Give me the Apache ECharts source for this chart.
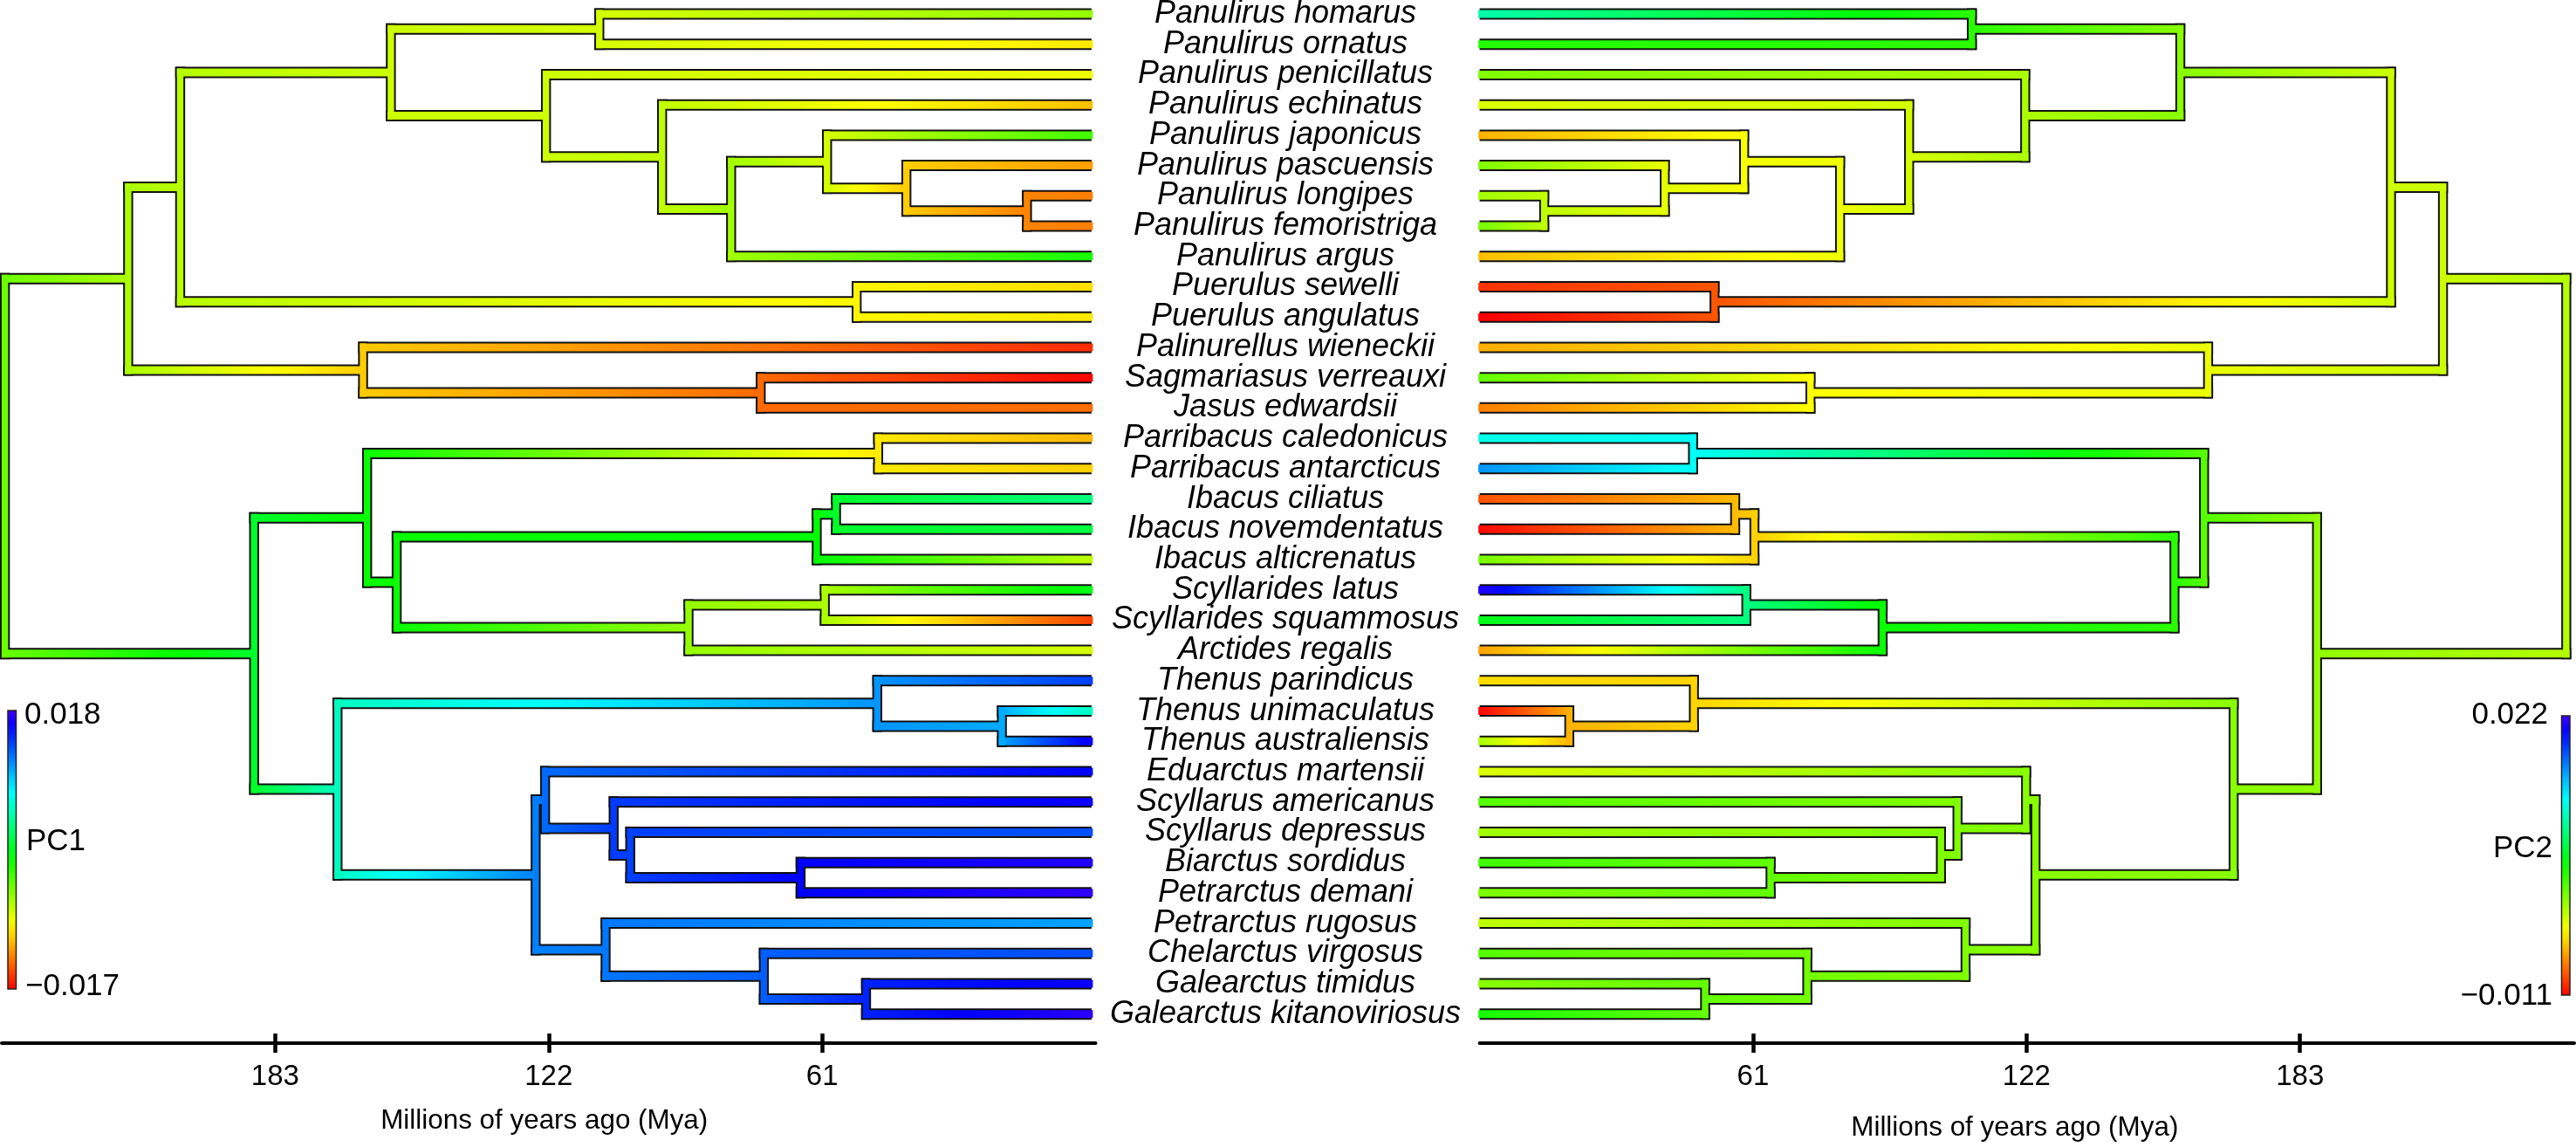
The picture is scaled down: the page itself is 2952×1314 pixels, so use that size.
<!DOCTYPE html>
<html>
<head>
<meta charset="utf-8">
<style>
  html, body { margin: 0; background: #fff; }
  #chart { width: 2952px; height: 1314px; }
</style>
<script src="https://cdn.jsdelivr.net/npm/echarts@6/dist/echarts.min.js"></script>
</head>
<body>
<div id="chart"></div>
<script>
// species, top to bottom (index = row = tip id)
const tipNames = [
  'Panulirus homarus', 'Panulirus ornatus', 'Panulirus penicillatus', 'Panulirus echinatus',
  'Panulirus japonicus', 'Panulirus pascuensis', 'Panulirus longipes', 'Panulirus femoristriga',
  'Panulirus argus', 'Puerulus sewelli', 'Puerulus angulatus', 'Palinurellus wieneckii',
  'Sagmariasus verreauxi', 'Jasus edwardsii', 'Parribacus caledonicus', 'Parribacus antarcticus',
  'Ibacus ciliatus', 'Ibacus novemdentatus', 'Ibacus alticrenatus', 'Scyllarides latus',
  'Scyllarides squammosus', 'Arctides regalis', 'Thenus parindicus', 'Thenus unimaculatus',
  'Thenus australiensis', 'Eduarctus martensii', 'Scyllarus americanus', 'Scyllarus depressus',
  'Biarctus sordidus', 'Petrarctus demani', 'Petrarctus rugosus', 'Chelarctus virgosus',
  'Galearctus timidus', 'Galearctus kitanoviriosus'
]

// internal nodes, ids start at 34: children, age (Mya), row
const nodeChildren = [
  [6, 7], [5, 34], [4, 35], [36, 8], [3, 37], [2, 38], [0, 1], [40, 39], [9, 10], [41, 42], [12, 13],
  [11, 44], [43, 45], [14, 15], [16, 17], [48, 18], [19, 20], [50, 21], [49, 51], [47, 52], [23, 24],
  [22, 54], [28, 29], [27, 56], [26, 57], [25, 58], [32, 33], [31, 60], [30, 61], [59, 62], [55, 63],
  [53, 64], [46, 65]
]
const nodeAges = [
  14.4, 41.3, 59, 80.4, 95.8, 121.7, 109.8, 156.3, 52.4, 203.3, 73.8,
  162.5, 214.9, 47.6, 57, 61.3, 59.5, 89.9, 155, 161.6, 20,
  47.8, 64.9, 102.9, 106.6, 121.9, 50.3, 73.1, 108.4, 124, 168.2,
  186.8, 242.4
]
const nodeRows = [
  6.5, 5.75, 4.875, 6.4375, 4.719, 3.359, 0.5, 1.93, 9.5, 5.715, 12.5,
  11.75, 8.732, 14.5, 16.5, 17.25, 19.5, 20.25, 18.75, 16.625, 23.5,
  22.75, 28.5, 27.75, 26.875, 25.938, 32.5, 31.75, 30.875, 28.406, 25.578,
  21.102, 14.917
]

// PC scores
const pc1Tips = [
  -0.00533, -0.00945, -0.00822, -0.01082, -0.00259, -0.01192, -0.01288, -0.01288, -0.00122, -0.00986,
  -0.00945, -0.01563, -0.01686, -0.01343, -0.0111, -0.01027, 0.00359, 0.00153, -0.00671, 0.00016,
  -0.01494, -0.00739, 0.01388, 0.00565, 0.01649, 0.01594, 0.01635, 0.01333, 0.01704, 0.01745,
  0.01072, 0.01347, 0.01635, 0.01731
]
const pc1Nodes = [
  -0.01275, -0.01041, -0.00739, -0.00575, -0.00671, -0.00712, -0.00739, -0.00712, -0.00904, -0.00643, -0.01357,
  -0.01041, -0.00602, -0.00945, 0.00084, -0.00053, -0.00602, -0.00533, -0.0008, -0.0008, 0.01045,
  0.01114, 0.01594, 0.01388, 0.01402, 0.01251, 0.01484, 0.01292, 0.0121, 0.01182, 0.00565,
  0.00084, -0.00396
]
const pc2Tips = [
  0.00971, 0.00349, 0.00065, -0.0022, -0.00556, 0.00065, -0.00039, 0.00091, -0.00518, -0.00945,
  -0.011, -0.00569, 0.00155, -0.00712, 0.01165, 0.01553, -0.00854, -0.01074, 0.00091, 0.02109,
  0.00518, -0.00608, -0.00427, -0.01087, -0.00065, -0.0022, 0.00194, -0.00039, 0.00259, 0.00065,
  -0.00129, 0.00194, 0.00039, 0.00388
]
const pc2Nodes = [
  -0.00129, -0.00246, -0.00298, -0.00272, -0.00194, -0.00065, 0.00324, 0.00039, -0.00841, -0.00168, -0.00324,
  -0.00259, -0.00168, 0.01203, -0.00531, -0.00466, 0.00841, 0.00427, 0.00324, 0.00194, -0.00556,
  -0.00453, 0.00155, 0.00065, 0.00065, 0.00039, 0.00155, 0.00104, 0.00065, 0.00039, 0.00039,
  0.00013, -0.00091
]

const pc1Range = [-0.017, 0.018]
const pc2Range = [-0.011, 0.022]
const tickValues = [61, 122, 183]

const maxHue = 255
const barH = 13 // branch thickness on the page, horizontal runs
const barV = 11.4 // vertical runs
const fillH = 9
const fillV = 7.4

const hueOf = (v, range) => maxHue * (v - range[0]) / (range[1] - range[0])
const hsl = h => `hsl(${h},100%,50%)`

// one row per drawn piece: ageFrom, ageTo, rowFrom, rowTo, hueFrom, hueTo
const buildSegments = (tips, nodes, range) => {
  const ageOf = id => id < 34 ? 0 : nodeAges[id - 34]
  const rowOf = id => id < 34 ? id : nodeRows[id - 34]
  const valOf = id => id < 34 ? tips[id] : nodes[id - 34]
  const segs = []
  nodeChildren.forEach((kids, i) => {
    const id = i + 34
    const h = hueOf(valOf(id), range)
    kids.forEach(k => {
      segs.push([ageOf(id), ageOf(k), rowOf(k), rowOf(k), h, hueOf(valOf(k), range)])
    })
    segs.push([ageOf(id), ageOf(id), rowOf(kids[0]), rowOf(kids[1]), h, h])
  })
  return segs
}

// side: -1 left tree (root on the left), 1 right tree
const branchSeries = (segs, gridIdx, side, shift, isFill) => ({
  type: 'custom',
  xAxisIndex: gridIdx,
  yAxisIndex: gridIdx,
  z: isFill ? 3 : 2,
  silent: true,
  clip: false,
  encode: { x: [0, 1], y: [2, 3] },
  data: segs,
  renderItem: (params, api) => {
    const a = api.coord([api.value(0) + shift, api.value(2)])
    const b = api.coord([api.value(1) + shift, api.value(3)])
    const halfH = (isFill ? fillH : barH) / 2
    const halfV = (isFill ? fillV : barV) / 2
    const h0 = api.value(4)
    const h1 = api.value(5)
    let x, y, w, h, fill
    if (api.value(0) === api.value(1)) {
      // vertical run at the node
      x = a[0] - halfV
      w = halfV * 2
      y = Math.min(a[1], b[1]) - halfH
      h = Math.abs(a[1] - b[1]) + halfH * 2
      fill = isFill ? hsl(h0) : '#111'
    } else {
      // horizontal run, node side reaches the outer edge of the vertical
      const inner = api.value(1) === 0 && isFill ? 1.5 : 0
      const start = a[0] + side * halfV
      const end = b[0] + (-side) * inner
      x = Math.min(start, end)
      w = Math.abs(start - end)
      y = a[1] - halfH
      h = halfH * 2
      if (isFill) {
        const stops = []
        for (let i = 0; i <= 10; i++) {
          stops.push({ offset: i / 10, color: hsl(h0 + (h1 - h0) * i / 10) })
        }
        // side -1: node is on the left, gradient runs left to right
        fill = new echarts.graphic.LinearGradient(side < 0 ? 0 : 1, 0, side < 0 ? 1 : 0, 0, stops)
      } else {
        fill = '#111'
      }
    }
    return { type: 'rect', shape: { x, y, width: w, height: h }, style: { fill } }
  }
})

const axisFont = 'Liberation Sans'
const rowScale = { type: 'value', inverse: true, min: -0.4608, max: 33.958, show: false }

const timeAxis = (gridIndex, inverse, max, namePad, nameGap) => ({
  type: 'value',
  gridIndex,
  inverse,
  min: 0,
  max,
  position: 'bottom',
  splitLine: { show: false },
  axisLine: { show: true, onZero: false, lineStyle: { color: '#000', width: 4 } },
  axisTick: { show: true, customValues: tickValues, length: 11, lineStyle: { color: '#000', width: 4.5 } },
  axisLabel: {
    customValues: tickValues,
    margin: 22,
    fontFamily: axisFont,
    fontSize: 33,
    color: '#000'
  },
  name: 'Millions of years ago (Mya)',
  nameLocation: 'middle',
  nameGap,
  nameTextStyle: { fontFamily: axisFont, fontSize: 31.4, color: '#000', padding: namePad }
})

// second axis on the same grid, only for the part of the tick above the line
const innerTicks = (gridIndex, inverse, max) => ({
  type: 'value',
  gridIndex,
  inverse,
  min: 0,
  max,
  position: 'bottom',
  splitLine: { show: false },
  axisLine: { show: false, onZero: false },
  axisLabel: { show: false },
  axisTick: { show: true, inside: true, customValues: tickValues, length: 11, lineStyle: { color: '#000', width: 4.5 } }
})

// colour bar, top = high end
const colorBar = (x, y, w, h) => {
  const stops = []
  for (let i = 0; i <= 20; i++) {
    stops.push({ offset: i / 20, color: hsl(maxHue * (1 - i / 20)) })
  }
  return {
    type: 'rect',
    shape: { x, y, width: w, height: h },
    style: {
      fill: new echarts.graphic.LinearGradient(0, 0, 0, 1, stops),
      stroke: '#222',
      lineWidth: 1.5
    }
  }
}
const barText = (text, x, y, align) => ({
  type: 'text',
  x,
  y,
  style: { text, fontFamily: axisFont, fontSize: 35, fill: '#000', align, verticalAlign: 'middle' }
})

const pc1Segs = buildSegments(pc1Tips, pc1Nodes, pc1Range)
const pc2Segs = buildSegments(pc2Tips, pc2Nodes, pc2Range)

const myChart = echarts.init(document.querySelector('#chart'))
const option = {
  backgroundColor: '#fff',
  animation: false,
  grid: [
    { left: 2, top: 0, width: 1253.5, height: 1195 },
    { left: 1695.6, top: 0, width: 1254.4, height: 1195 },
    { left: 1256, top: 0, width: 434, height: 1195 }
  ],
  xAxis: [
    timeAxis(0, true, 244, [0, 10, 0, 0], 74),
    timeAxis(1, false, 244.18, [0, 28, 0, 0], 82),
    { type: 'value', gridIndex: 2, min: -1, max: 1, show: false },
    innerTicks(0, true, 244),
    innerTicks(1, false, 244.18)
  ],
  yAxis: [
    { ...rowScale, gridIndex: 0 },
    { ...rowScale, gridIndex: 1 },
    { ...rowScale, gridIndex: 2 }
  ],
  series: [
    branchSeries(pc1Segs, 0, -1, 0.9, false),
    branchSeries(pc1Segs, 0, -1, 0.9, true),
    branchSeries(pc2Segs, 1, 1, 0, false),
    branchSeries(pc2Segs, 1, 1, 0, true),
    {
      // species names between the two trees
      type: 'scatter',
      xAxisIndex: 2,
      yAxisIndex: 2,
      symbolSize: 0,
      silent: true,
      itemStyle: { opacity: 1 },
      data: tipNames.map((name, i) => ({ name, value: [0, i] })),
      label: {
        show: true,
        position: 'inside',
        formatter: '{b}',
        fontFamily: axisFont,
        fontStyle: 'italic',
        fontSize: 36,
        color: '#000',
        opacity: 1
      }
    }
  ],
  graphic: [
    colorBar(9, 814, 9.5, 319),
    barText('0.018', 28, 819, 'left'),
    barText('PC1', 30, 964, 'left'),
    barText('\u22120.017', 29, 1130, 'left'),
    colorBar(2935.5, 820, 9.5, 320),
    barText('0.022', 2920, 819, 'right'),
    barText('PC2', 2925, 972, 'right'),
    barText('\u22120.011', 2925, 1141, 'right')
  ]
}
myChart.setOption(option)
</script>
</body>
</html>
